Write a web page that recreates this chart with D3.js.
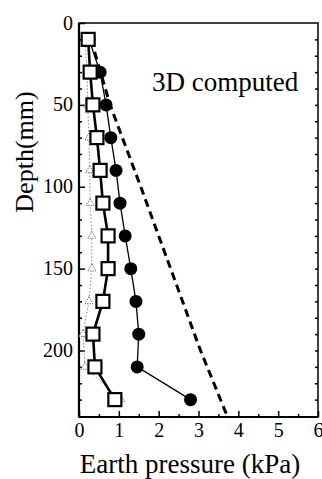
<!DOCTYPE html>
<html>
<head>
<meta charset="utf-8">
<script src="https://cdn.jsdelivr.net/npm/d3@7"></script>
<style>
  body { margin: 0; background: #fff; }
  svg { display: block; }
</style>
</head>
<body>
<div id="grafico"></div>
<script>
// depths (mm) of the measuring points
const profundidades = [10, 30, 50, 70, 90, 110, 130, 150, 170, 190, 210, 230];
// earth pressure (kPa) per series
const quadrados = [0.23, 0.28, 0.35, 0.45, 0.53, 0.6, 0.73, 0.73, 0.6, 0.35, 0.4, 0.9];
const circulos = [0.25, 0.53, 0.68, 0.8, 0.93, 1.03, 1.16, 1.3, 1.43, 1.5, 1.46, 2.8];
const triangulos = [0.15, 0.2, 0.22, 0.25, 0.27, 0.28, 0.32, 0.32, 0.25, 0.1, 0.15, 1.05];
// 3D computed curve
const calcProf = [10, 50, 100, 150, 200, 240];
const calcPressao = [0.3, 0.78, 1.55, 2.3, 3.05, 3.72];
// tick values
const ticksX = [0, 1, 2, 3, 4, 5, 6];
const ticksY = [0, 50, 100, 150, 200];

const fonte = "Liberation Serif";
const largura = 322, altura = 479;
const margem = { top: 23, right: 4, bottom: 62, left: 79 };

const svg = d3.select("#grafico").append("svg")
    .attr("width", largura)
    .attr("height", altura)
    .attr("font-family", fonte);

const x = d3.scaleLinear().domain([0, 6]).range([margem.left, largura - margem.right]);
const y = d3.scaleLinear().domain([0, 240]).range([margem.top, 416]);
const base = 417;

// Moldura
svg.append("rect")
    .attr("x", x(0)).attr("y", y(0))
    .attr("width", x(6) - x(0)).attr("height", base - y(0))
    .attr("fill", "none").attr("stroke", "#000").attr("stroke-width", 1.5);

// Eixo X (ticks para dentro)
const eixoX = svg.append("g").attr("transform", `translate(0,${base})`)
    .call(d3.axisBottom(x).tickValues(ticksX).tickSize(-6).tickPadding(6).tickFormat(d3.format("d")));
svg.append("g").attr("transform", `translate(0,${base})`)
    .call(d3.axisBottom(x).tickValues(d3.range(0.5, 6, 1)).tickSize(-3).tickFormat(""));

// Eixo Y
const eixoY = svg.append("g").attr("transform", `translate(${x(0)},0)`)
    .call(d3.axisLeft(y).tickValues(ticksY).tickSize(-6).tickPadding(6).tickFormat(d3.format("d")));
svg.append("g").attr("transform", `translate(${x(0)},0)`)
    .call(d3.axisLeft(y).tickValues(d3.range(10, 240, 10).filter(d => d % 50 !== 0)).tickSize(-3).tickFormat(""));
svg.append("g").attr("transform", `translate(${x(6)},0)`)
    .call(d3.axisRight(y).tickValues(d3.range(10, 240, 10)).tickSize(-3).tickFormat(""));

svg.selectAll(".domain").remove();
svg.selectAll("g").attr("font-family", fonte).attr("font-size", 20);
svg.selectAll(".tick line").attr("stroke", "#000").attr("stroke-width", 1.5);
svg.selectAll(".tick text").attr("fill", "#000").attr("font-family", fonte).attr("font-size", 20);
eixoY.selectAll(".tick text").attr("dy", "0.3em");
eixoX.selectAll(".tick text").attr("dy", "0.72em");

// Linhas (eixo esquerdo e inferior mais grossos)
svg.append("line").attr("x1", x(0)).attr("x2", x(0)).attr("y1", y(0)).attr("y2", base)
    .attr("stroke", "#000").attr("stroke-width", 2.2);
svg.append("line").attr("x1", x(0)).attr("x2", x(6)).attr("y1", base).attr("y2", base)
    .attr("stroke", "#000").attr("stroke-width", 2.2);

const linha = (valores, profs) => d3.line()
    .x((d, i) => x(valores[i]))
    .y((d, i) => y(profs[i]))(profs);

// Triângulos (pontilhado cinza)
svg.append("path")
    .attr("d", linha(triangulos, profundidades))
    .attr("fill", "none").attr("stroke", "#888").attr("stroke-width", 1)
    .attr("stroke-dasharray", "1.5,2");
svg.selectAll(".tri").data(profundidades).enter().append("path")
    .attr("class", "tri")
    .attr("transform", (d, i) => `translate(${x(triangulos[i])},${y(d)})`)
    .attr("d", d3.symbol(d3.symbolTriangle, 28))
    .attr("fill", "#fff").attr("stroke", "#777").attr("stroke-width", 1)
    .attr("stroke-dasharray", "1.5,1");

// Curva calculada 3D (tracejada)
svg.append("path")
    .attr("d", linha(calcPressao, calcProf))
    .attr("fill", "none").attr("stroke", "#000").attr("stroke-width", 3)
    .attr("stroke-dasharray", "8,5");

// Círculos
svg.append("path")
    .attr("d", linha(circulos, profundidades))
    .attr("fill", "none").attr("stroke", "#000").attr("stroke-width", 1.3);
svg.selectAll(".circ").data(profundidades).enter().append("circle")
    .attr("class", "circ")
    .attr("cx", (d, i) => x(circulos[i]))
    .attr("cy", d => y(d))
    .attr("r", 6.5)
    .attr("fill", "#000");

// Quadrados
svg.append("path")
    .attr("d", linha(quadrados, profundidades))
    .attr("fill", "none").attr("stroke", "#000").attr("stroke-width", 2.6);
svg.selectAll(".quad").data(profundidades).enter().append("rect")
    .attr("class", "quad")
    .attr("x", (d, i) => x(quadrados[i]) - 6.5)
    .attr("y", d => y(d) - 6.5)
    .attr("width", 13).attr("height", 13)
    .attr("fill", "#fff").attr("stroke", "#000").attr("stroke-width", 2.2);

// Textos
svg.append("text")
    .attr("x", 152).attr("y", 91)
    .attr("font-size", 27)
    .text("3D computed");

svg.append("text")
    .attr("x", 190).attr("y", 473)
    .attr("text-anchor", "middle")
    .attr("font-size", 27)
    .text("Earth pressure (kPa)");

svg.append("text")
    .attr("transform", "translate(33,152) rotate(-90)")
    .attr("text-anchor", "middle")
    .attr("font-size", 26)
    .text("Depth(mm)");
</script>
</body>
</html>
